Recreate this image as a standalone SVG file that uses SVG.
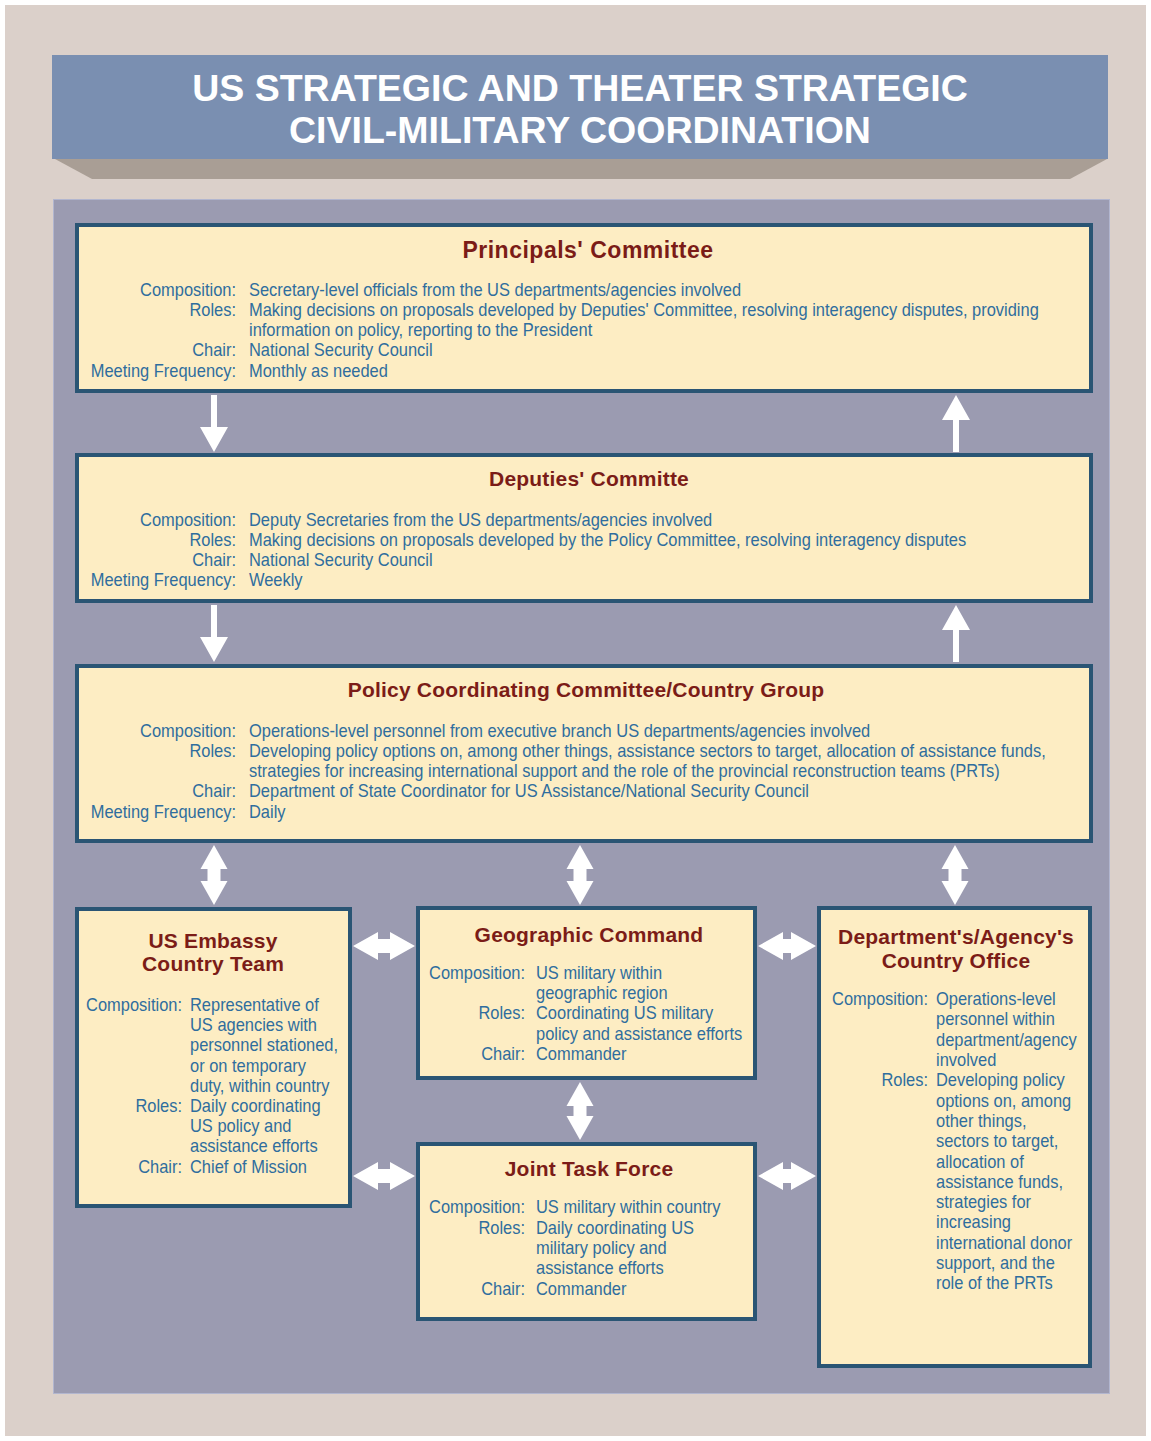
<svg xmlns="http://www.w3.org/2000/svg" width="1151" height="1441" viewBox="0 0 1151 1441">
<style>
.box{fill:#fdedc3;stroke:#2a5574;stroke-width:4}
.ttl{font-family:"Liberation Sans",Arial,sans-serif;font-weight:bold;font-size:21px;letter-spacing:0.2px;fill:#7b1c17;text-anchor:middle}
.big{font-size:23px;letter-spacing:0.5px}
.tx{font-family:"Liberation Sans",Arial,sans-serif;font-size:17.5px;fill:#2f6d9e}
.lb{text-anchor:end}
.arr{fill:#ffffff}
.head{font-family:"Liberation Sans",Arial,sans-serif;font-weight:bold;font-size:37.5px;fill:#ffffff;text-anchor:middle}
</style>
<rect x="0" y="0" width="1151" height="1441" fill="#ffffff"/>
<rect x="5" y="5" width="1141" height="1431" fill="#dbd0ca"/>
<polygon points="55,159 1107,159 1070,179 92,179" fill="#a99e95"/>
<rect x="52" y="55" width="1056" height="104" fill="#7a8fb1"/>
<text class="head" x="580" y="101">US STRATEGIC AND THEATER STRATEGIC</text>
<text class="head" x="580" y="143">CIVIL-MILITARY COORDINATION</text>
<rect x="53.5" y="199.5" width="1056" height="1194" fill="#9b9bb1" stroke="#b2b6cf" stroke-width="1"/>

<g id="connectors">
<polygon class="arr" points="211,395 217,395 217,427 228,427 214,452 200,427 211,427"/>
<polygon class="arr" points="953,452 959,452 959,420 970,420 956,395 942,420 953,420"/>
<polygon class="arr" points="211,605 217,605 217,637 228,637 214,662 200,637 211,637"/>
<polygon class="arr" points="953,662 959,662 959,630 970,630 956,605 942,630 953,630"/>
<polygon class="arr" points="214,845 227.5,869 220.5,869 220.5,881 227.5,881 214,905 200.5,881 207.5,881 207.5,869 200.5,869"/>
<polygon class="arr" points="580,845 593.5,869 586.5,869 586.5,881 593.5,881 580,905 566.5,881 573.5,881 573.5,869 566.5,869"/>
<polygon class="arr" points="955,845 968.5,869 961.5,869 961.5,881 968.5,881 955,905 941.5,881 948.5,881 948.5,869 941.5,869"/>
<polygon class="arr" points="580,1082 593.5,1106 586.5,1106 586.5,1116 593.5,1116 580,1140 566.5,1116 573.5,1116 573.5,1106 566.5,1106"/>
<polygon class="arr" points="353,946 378,932 378,939 390,939 390,932 415,946 390,960 390,953 378,953 378,960"/>
<polygon class="arr" points="353,1176 378,1162 378,1169 390,1169 390,1162 415,1176 390,1190 390,1183 378,1183 378,1190"/>
<polygon class="arr" points="758,946 783,932 783,939 791,939 791,932 816,946 791,960 791,953 783,953 783,960"/>
<polygon class="arr" points="758,1176 783,1162 783,1169 791,1169 791,1162 816,1176 791,1190 791,1183 783,1183 783,1190"/>
</g>

<g id="principals">
<rect class="box" x="77" y="225" width="1014" height="166"/>
<text class="ttl big" x="588" y="258">Principals' Committee</text>
<g transform="translate(249,0) scale(0.94,1)">
<text class="tx lb" x="-13.8" y="296">Composition:</text>
<text class="tx" x="0" y="296">Secretary-level officials from the US departments/agencies involved</text>
<text class="tx lb" x="-13.8" y="316">Roles:</text>
<text class="tx" x="0" y="316">Making decisions on proposals developed by Deputies' Committee, resolving interagency disputes, providing</text>
<text class="tx" x="0" y="336">information on policy, reporting to the President</text>
<text class="tx lb" x="-13.8" y="356">Chair:</text>
<text class="tx" x="0" y="356">National Security Council</text>
<text class="tx lb" x="-13.8" y="377">Meeting Frequency:</text>
<text class="tx" x="0" y="377">Monthly as needed</text>
</g>
</g>

<g id="deputies">
<rect class="box" x="77" y="455" width="1014" height="146"/>
<text class="ttl" x="589" y="486">Deputies' Committe</text>
<g transform="translate(249,0) scale(0.94,1)">
<text class="tx lb" x="-13.8" y="526">Composition:</text>
<text class="tx" x="0" y="526">Deputy Secretaries from the US departments/agencies involved</text>
<text class="tx lb" x="-13.8" y="546">Roles:</text>
<text class="tx" x="0" y="546">Making decisions on proposals developed by the Policy Committee, resolving interagency disputes</text>
<text class="tx lb" x="-13.8" y="566">Chair:</text>
<text class="tx" x="0" y="566">National Security Council</text>
<text class="tx lb" x="-13.8" y="586">Meeting Frequency:</text>
<text class="tx" x="0" y="586">Weekly</text>
</g>
</g>

<g id="policy">
<rect class="box" x="77" y="666" width="1014" height="175"/>
<text class="ttl" x="586" y="697">Policy Coordinating Committee/Country Group</text>
<g transform="translate(249,0) scale(0.94,1)">
<text class="tx lb" x="-13.8" y="737">Composition:</text>
<text class="tx" x="0" y="737">Operations-level personnel from executive branch US departments/agencies involved</text>
<text class="tx lb" x="-13.8" y="757">Roles:</text>
<text class="tx" x="0" y="757">Developing policy options on, among other things, assistance sectors to target, allocation of assistance funds,</text>
<text class="tx" x="0" y="777">strategies for increasing international support and the role of the provincial reconstruction teams (PRTs)</text>
<text class="tx lb" x="-13.8" y="797">Chair:</text>
<text class="tx" x="0" y="797">Department of State Coordinator for US Assistance/National Security Council</text>
<text class="tx lb" x="-13.8" y="818">Meeting Frequency:</text>
<text class="tx" x="0" y="818">Daily</text>
</g>
</g>

<g id="embassy">
<rect class="box" x="77" y="909" width="273" height="297"/>
<text class="ttl" x="213" y="948">US Embassy</text>
<text class="ttl" x="213" y="971">Country Team</text>
<g transform="translate(190,0) scale(0.94,1)">
<text class="tx lb" x="-8.5" y="1011">Composition:</text>
<text class="tx" x="0" y="1011">Representative of</text>
<text class="tx" x="0" y="1031">US agencies with</text>
<text class="tx" x="0" y="1051">personnel stationed,</text>
<text class="tx" x="0" y="1072">or on temporary</text>
<text class="tx" x="0" y="1092">duty, within country</text>
<text class="tx lb" x="-8.5" y="1112">Roles:</text>
<text class="tx" x="0" y="1112">Daily coordinating</text>
<text class="tx" x="0" y="1132">US policy and</text>
<text class="tx" x="0" y="1152">assistance efforts</text>
<text class="tx lb" x="-8.5" y="1173">Chair:</text>
<text class="tx" x="0" y="1173">Chief of Mission</text>
</g>
</g>

<g id="geographic">
<rect class="box" x="418" y="908" width="337" height="170"/>
<text class="ttl" x="589" y="942">Geographic Command</text>
<g transform="translate(536,0) scale(0.94,1)">
<text class="tx lb" x="-11.7" y="979">Composition:</text>
<text class="tx" x="0" y="979">US military within</text>
<text class="tx" x="0" y="999">geographic region</text>
<text class="tx lb" x="-11.7" y="1019">Roles:</text>
<text class="tx" x="0" y="1019">Coordinating US military</text>
<text class="tx" x="0" y="1040">policy and assistance efforts</text>
<text class="tx lb" x="-11.7" y="1060">Chair:</text>
<text class="tx" x="0" y="1060">Commander</text>
</g>
</g>

<g id="jtf">
<rect class="box" x="418" y="1144" width="337" height="175"/>
<text class="ttl" x="589" y="1176">Joint Task Force</text>
<g transform="translate(536,0) scale(0.94,1)">
<text class="tx lb" x="-11.7" y="1213">Composition:</text>
<text class="tx" x="0" y="1213">US military within country</text>
<text class="tx lb" x="-11.7" y="1234">Roles:</text>
<text class="tx" x="0" y="1234">Daily coordinating US</text>
<text class="tx" x="0" y="1254">military policy and</text>
<text class="tx" x="0" y="1274">assistance efforts</text>
<text class="tx lb" x="-11.7" y="1295">Chair:</text>
<text class="tx" x="0" y="1295">Commander</text>
</g>
</g>

<g id="department">
<rect class="box" x="819" y="908" width="271" height="458"/>
<text class="ttl" x="956" y="944">Department's/Agency's</text>
<text class="ttl" x="956" y="968">Country Office</text>
<g transform="translate(936,0) scale(0.94,1)">
<text class="tx lb" x="-8.5" y="1005">Composition:</text>
<text class="tx" x="0" y="1005">Operations-level</text>
<text class="tx" x="0" y="1025">personnel within</text>
<text class="tx" x="0" y="1046">department/agency</text>
<text class="tx" x="0" y="1066">involved</text>
<text class="tx lb" x="-8.5" y="1086">Roles:</text>
<text class="tx" x="0" y="1086">Developing policy</text>
<text class="tx" x="0" y="1107">options on, among</text>
<text class="tx" x="0" y="1127">other things,</text>
<text class="tx" x="0" y="1147">sectors to target,</text>
<text class="tx" x="0" y="1168">allocation of</text>
<text class="tx" x="0" y="1188">assistance funds,</text>
<text class="tx" x="0" y="1208">strategies for</text>
<text class="tx" x="0" y="1228">increasing</text>
<text class="tx" x="0" y="1249">international donor</text>
<text class="tx" x="0" y="1269">support, and the</text>
<text class="tx" x="0" y="1289">role of the PRTs</text>
</g>
</g>
</svg>
